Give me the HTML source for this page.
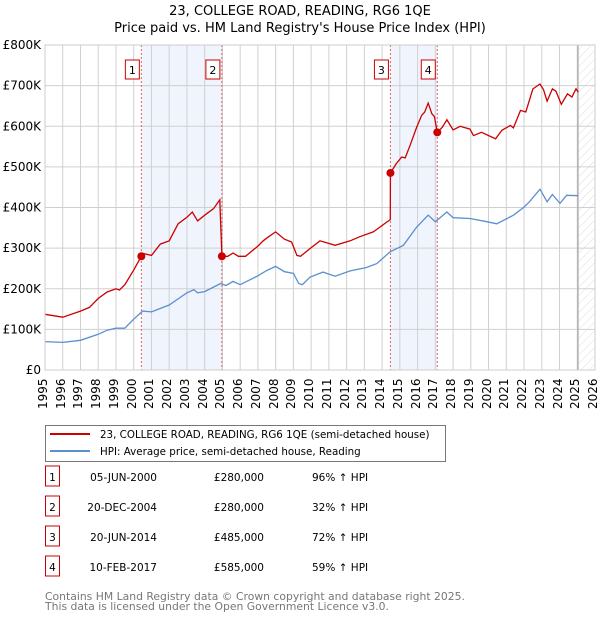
<!DOCTYPE html>
<html><head><meta charset="utf-8">
<style>
body{margin:0;background:#fff;font-family:"DejaVu Sans","Liberation Sans",sans-serif;}
#wrap{position:relative;width:600px;height:620px;overflow:hidden;}
svg text{font-family:"DejaVu Sans","Liberation Sans",sans-serif;}
.xt{position:absolute;width:30px;height:14px;line-height:14px;font-size:12px;text-align:right;white-space:nowrap;transform-origin:0 0;transform:rotate(-90deg);color:#000;}
</style></head>
<body>
<div id="wrap">
<svg id="c" width="600" height="620" style="position:absolute;left:0;top:0">
<defs>
<pattern id="hatch" width="6" height="6" patternUnits="userSpaceOnUse" patternTransform="rotate(45)">
<line x1="0" y1="0" x2="0" y2="6" stroke="#d4d4d4" stroke-width="0.8"/>
</pattern>
</defs>
<text x="300" y="15" text-anchor="middle" font-size="13">23, COLLEGE ROAD, READING, RG6 1QE</text>
<text x="300" y="32" text-anchor="middle" font-size="13">Price paid vs. HM Land Registry's House Price Index (HPI)</text>
<g id="plot"></g>
<rect x="45.5" y="425.5" width="400" height="36" fill="#fff" stroke="#777"/>
<line x1="50" y1="434" x2="90" y2="434" stroke="#cc0000" stroke-width="2"/>
<text x="100" y="438" font-size="10.3">23, COLLEGE ROAD, READING, RG6 1QE (semi-detached house)</text>
<line x1="50" y1="451" x2="90" y2="451" stroke="#5b8fd0" stroke-width="2"/>
<text x="100" y="455" font-size="10.3">HPI: Average price, semi-detached house, Reading</text>
<g id="table"></g>
<text x="45" y="600" font-size="10.8" fill="#777">Contains HM Land Registry data © Crown copyright and database right 2025.</text>
<text x="45" y="610" font-size="10.8" fill="#777">This data is licensed under the Open Government Licence v3.0.</text>
</svg>
</div>
<script>
const hpiYears=[1995,1996,1997,1998,1998.5,1999,1999.5,2000,2000.5,2001,2002,2002.5,2003,2003.4,2003.6,2004,2004.9,2005.2,2005.6,2006,2007,2007.5,2008,2008.5,2009,2009.3,2009.5,2009.94,2010.67,2011.35,2012.2,2013.1,2013.7,2014.45,2015.2,2015.95,2016.6,2017.0,2017.65,2018.0,2018.95,2019.9,2020.46,2021.4,2022.0,2022.3,2022.9,2023.3,2023.6,2024.03,2024.4,2025.06];
const hpiValues=[70,68,73,88,98,103,103,125,145,143,160,175,190,198,190,193,213,208,218,210,232,245,255,242,238,213,210,229,241,231,244,252,262,291,307,352,381,365,389,375,373,365,360,381,401,414,445,414,432,410,430,429];
const propYears=[1995,1996,1997,1997.5,1998,1998.5,1999,1999.2,1999.5,2000,2000.43,2000.5,2001,2001.5,2002,2002.5,2003,2003.3,2003.6,2004,2004.5,2004.85,2004.97,2005.3,2005.6,2005.9,2006.3,2007,2007.3,2007.6,2008,2008.5,2008.9,2009.2,2009.4,2009.94,2010.5,2011.35,2012.2,2012.8,2013.5,2013.7,2014.26,2014.46,2014.47,2014.8,2015.1,2015.3,2015.58,2015.95,2016.23,2016.4,2016.6,2016.8,2016.95,2017.11,2017.4,2017.65,2018.0,2018.4,2018.95,2019.15,2019.6,2020.1,2020.4,2020.75,2021.23,2021.4,2021.8,2022.1,2022.5,2022.9,2023.1,2023.3,2023.6,2023.8,2024.1,2024.45,2024.7,2024.93,2025.06];
const propValues=[137,130,145,154,176,192,200,197,210,246,280,287,282,310,318,360,376,389,367,381,397,419,280,280,288,280,280,305,318,328,340,322,315,282,280,299,318,307,318,329,340,346,364,370,485,508,524,522,553,598,627,635,657,631,624,584,598,616,591,600,593,577,585,575,569,590,602,596,639,635,692,704,690,662,692,686,654,680,672,692,684];
const saleYears=[2000.43,2004.97,2014.47,2017.11];
const saleValues=[280,280,485,585];
const saleLabels=["1","2","3","4"];
const saleDates=["05-JUN-2000","20-DEC-2004","20-JUN-2014","10-FEB-2017"];
const salePrices=["£280,000","£280,000","£485,000","£585,000"];
const saleHpi=["96% ↑ HPI","32% ↑ HPI","72% ↑ HPI","59% ↑ HPI"];
const yTicks=[0,100,200,300,400,500,600,700,800];
const yTickLabels=["£0","£100K","£200K","£300K","£400K","£500K","£600K","£700K","£800K"];
const xTicks=[1995,1996,1997,1998,1999,2000,2001,2002,2003,2004,2005,2006,2007,2008,2009,2010,2011,2012,2013,2014,2015,2016,2017,2018,2019,2020,2021,2022,2023,2024,2025,2026];

const NS="http://www.w3.org/2000/svg";
const X0=45,X1=595,Y0=370,Y1=45;
const xs=y=>X0+(y-1995)/(2026-1995)*(X1-X0);
const ys=v=>Y0-v/800*(Y0-Y1);
const plot=document.getElementById('plot');
const wrap=document.getElementById('wrap');
function mk(tag,attrs,parent){const e=document.createElementNS(NS,tag);for(const k in attrs)e.setAttribute(k,attrs[k]);(parent||plot).appendChild(e);return e;}

for(let i=0;i<saleYears.length;i+=2){
  const r=mk('rect',{x:xs(saleYears[i]),y:Y1,width:xs(saleYears[i+1])-xs(saleYears[i]),height:Y0-Y1,fill:'#f0f4fc'});
  
  
}
const hx=xs(2025.1);
const h=mk('rect',{x:hx,y:Y1,width:X1-hx,height:Y0-Y1,fill:'url(#hatch)'});


xTicks.forEach((t,i)=>{
  const l=mk('line',{x1:xs(t),x2:xs(t),y1:Y1,y2:Y0,stroke:'#d0d0d0','stroke-width':1});
  
  
  const d=document.createElement('div');
  d.className='xt';
  d.style.left=(xs(t)-9)+'px';
  d.style.top=(Y0+9+30)+'px';
  d.textContent=t;
  
  
  wrap.appendChild(d);
});
yTicks.forEach((t,i)=>{
  const l=mk('line',{x1:X0,x2:X1,y1:ys(t),y2:ys(t),stroke:'#d0d0d0','stroke-width':1});
  
  
  const tx=mk('text',{x:X0-4,y:ys(t)+4,'text-anchor':'end','font-size':12});
  tx.textContent=yTickLabels[i];
  
  
});
const nl=mk('line',{x1:hx-1,x2:hx-1,y1:Y1,y2:Y0,stroke:'#999','stroke-width':1});


saleYears.forEach((s,i)=>{
  const l=mk('line',{x1:xs(s),x2:xs(s),y1:Y1,y2:Y0,stroke:'#e06060','stroke-width':1,'stroke-dasharray':'2,2'});
  
  
});
function path(xa,va){return xa.map((x,i)=>(i?'L':'M')+xs(x).toFixed(1)+','+ys(va[i]).toFixed(1)).join('');}
const hp=mk('path',{d:path(hpiYears,hpiValues),fill:'none',stroke:'#5b8fd0','stroke-width':1.3});


const pp=mk('path',{d:path(propYears,propValues),fill:'none',stroke:'#cc0000','stroke-width':1.3});


saleYears.forEach((s,i)=>{
  const c=mk('circle',{cx:xs(s),cy:ys(saleValues[i]),r:4,fill:'#cc0000'});
  
  
  const g=mk('g',{});
  
  
  mk('rect',{x:xs(s)-16,y:60,width:14,height:19,fill:'#fff',stroke:'#cc0000'},g);
  const t=mk('text',{x:xs(s)-9,y:74,'text-anchor':'middle','font-size':11},g);
  t.textContent=saleLabels[i];
});
mk('rect',{x:X0,y:Y1,width:X1-X0,height:Y0-Y1,fill:'none',stroke:'#ccc'});
const tb=document.getElementById('table');
saleLabels.forEach((lab,i)=>{
  const y=483+i*30;
  const g=mk('g',{},tb);
  
  
  mk('rect',{x:45.5,y:y-17,width:14,height:20,fill:'#fff',stroke:'#cc0000'},g);
  const a=mk('text',{x:52.5,y:y-2,'text-anchor':'middle','font-size':10.5},g);a.textContent=lab;
  const b=mk('text',{x:157,y:y-2,'text-anchor':'end','font-size':10.5},g);b.textContent=saleDates[i];
  const c=mk('text',{x:264,y:y-2,'text-anchor':'end','font-size':10.5},g);c.textContent=salePrices[i];
  const d=mk('text',{x:312,y:y-2,'font-size':10.5},g);d.textContent=saleHpi[i];
});
</script>
</body></html>
